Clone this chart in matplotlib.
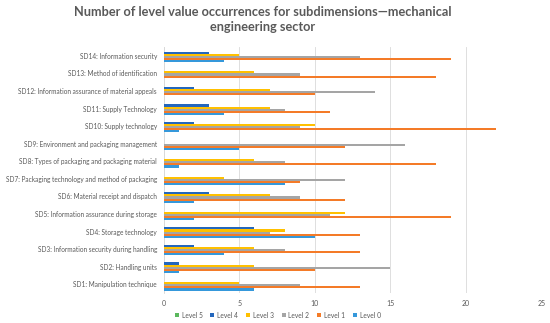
import numpy as np
import matplotlib
matplotlib.use("Agg")
import matplotlib.pyplot as plt

categories = ["SD1: Manipulation technique",
              "SD2: Handling units",
              "SD3: Information security during handling",
              "SD4: Storage technology",
              "SD5: Information assurance during storage",
              "SD6: Material receipt and dispatch",
              "SD7: Packaging technology and method of packaging",
              "SD8: Types of packaging and packaging material",
              "SD9: Environment and packaging management",
              "SD10: Supply technology",
              "SD11: Supply Technology",
              "SD12: Information assurance of material appeals",
              "SD13: Method of identification",
              "SD14: Information security"]

level5 = [0, 0, 0, 0, 0, 0, 0, 0, 0, 0, 0, 0, 0, 0]
level4 = [0, 1, 2, 6, 0, 3, 0, 0, 0, 2, 3, 2, 0, 3]
level3 = [5, 6, 6, 8, 12, 7, 4, 6, 0, 10, 7, 7, 6, 5]
level2 = [9, 15, 8, 7, 11, 9, 12, 8, 16, 9, 8, 14, 9, 13]
level1 = [13, 10, 13, 13, 19, 12, 9, 18, 12, 22, 11, 10, 18, 19]
level0 = [6, 1, 4, 10, 2, 2, 8, 1, 5, 1, 4, 0, 0, 4]

series_names = ["Level 5", "Level 4", "Level 3", "Level 2", "Level 1", "Level 0"]
colors = ["#5BB85D", "#2467BD", "#FFC000", "#A5A5A5", "#F47B28", "#3598DB"]

plt.rcParams['font.family'] = ['Lato', 'DejaVu Sans']

fig = plt.figure(figsize=(5.5, 3.23), dpi=100)
ax = fig.add_axes([0.298, 0.093, 0.686, 0.761])

y = np.arange(len(categories))
h = 0.12
data = [level5, level4, level3, level2, level1, level0]
for i, (vals, name, c) in enumerate(zip(data, series_names, colors)):
    offset = (2.5 - i) * h
    ax.barh(y + offset, vals, height=h, color=c, label=name, zorder=3)

ax.set_xlim(0, 25)
ax.set_ylim(-0.5, 13.5)
ax.set_xticks([0, 5, 10, 15, 20, 25])
ax.set_yticks(y)
ax.set_yticklabels(categories)
ax.tick_params(axis='y', length=0, labelsize=4.7, colors='#595959', pad=5)
ax.tick_params(axis='x', length=0, labelsize=5, colors='#595959', pad=5)
ax.grid(axis='x', color='#D9D9D9', linewidth=0.6, zorder=0)
for s in ['top', 'right', 'bottom']:
    ax.spines[s].set_visible(False)
ax.spines['left'].set_color('#D9D9D9')
ax.spines['left'].set_linewidth(0.6)

fig.suptitle("Number of level value occurrences for subdimensions\u2014mechanical\nengineering sector",
             fontsize=9.2, fontweight='bold', color='#595959', y=0.98, x=0.478,
             linespacing=1.3)

fig.legend(loc='lower center', bbox_to_anchor=(0.505, -0.005), ncol=6, frameon=False,
           fontsize=4.8, handlelength=0.6, handleheight=0.6, columnspacing=1.2,
           handletextpad=0.4, labelcolor='#595959')

fig.savefig("out.png", dpi=100)
